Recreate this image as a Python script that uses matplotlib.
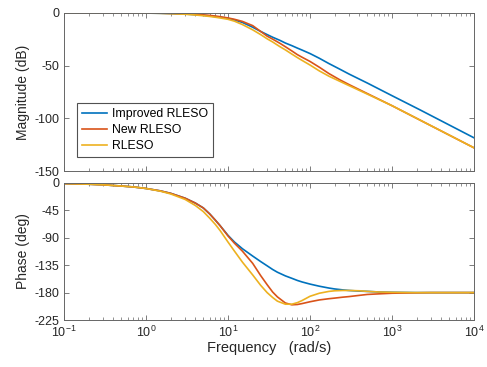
import numpy as np
import matplotlib
matplotlib.use("Agg")
import matplotlib.pyplot as plt
from matplotlib.ticker import LogLocator, NullFormatter

plt.rcParams['font.family'] = ['Liberation Sans', 'DejaVu Sans']
plt.rcParams['axes.unicode_minus'] = False
plt.rcParams['mathtext.default'] = 'regular'

# magnitude readings (dB)
freq_mag = [0.1, 0.5, 1, 1.5, 2, 3, 4, 5, 6, 7, 8, 10, 12, 15, 20, 25, 30, 35, 43, 50,
            60, 70, 80, 100, 130, 170, 233, 300, 500, 1000, 2200, 10000]
mag_improved = [0, 0, -0.1, -0.3, -0.5, -1, -1.6, -2.2, -2.8, -3.4, -4, -5.2, -6.6, -9, -13.5, -17.5,
                -20.5, -23, -26, -28.5, -31, -33.3, -35.2, -38.5, -43, -48, -53.5, -58, -66.5, -78.5, -92, -118.5]
mag_new = [0, 0, -0.1, -0.2, -0.4, -0.8, -1.3, -1.8, -2.3, -2.9, -3.5, -4.7, -6, -8, -12, -17.5,
           -22, -24.8, -28.8, -32, -36, -39.5, -42, -46, -51.5, -57.5, -63.6, -68, -76.5, -88, -101.7, -128]
mag_rleso = [0, 0, -0.1, -0.3, -0.6, -1.2, -1.9, -2.6, -3.3, -4, -4.7, -6, -7.8, -11, -16, -20.5,
             -24.5, -27.5, -32, -35, -39, -42.3, -45, -49.4, -55, -60, -65, -69, -77, -88, -101.7, -128]

# phase readings (deg)
freq_ph = [0.1, 0.2, 0.3, 0.5, 0.7, 1, 1.5, 2, 3, 4, 5, 6, 7, 8, 10, 12, 15, 20, 25, 30, 35, 40,
           50, 60, 70, 80, 100, 130, 170, 200, 250, 300, 400, 500, 700, 1000, 2000, 3000, 10000]
ph_improved = [-1, -2, -3, -5, -6.5, -9, -13, -17, -25, -33, -41, -51, -61, -70, -86, -97, -108, -120,
               -129, -136, -142, -146.5, -152.5, -156.5, -160, -162.5, -166, -169.5, -172.5, -174, -175.5,
               -176.5, -177.5, -178, -179, -179.5, -180, -180, -180]
ph_new = [-1, -2, -3, -5, -6.5, -9, -13, -17, -25, -33, -41, -51, -61, -70, -87, -99, -112, -132,
          -152, -167, -179, -187, -197, -200, -199.5, -198, -195, -192, -190, -189, -187.5,
          -186.5, -184.5, -183, -182, -181, -180.3, -180, -180]
ph_rleso = [-1, -2, -3, -5, -6.5, -9, -13.5, -18, -27, -37, -47, -58, -68, -78, -97, -112, -130, -151,
            -168, -180, -188, -194, -199, -199, -196.5, -193, -186, -181, -178, -177, -176.5,
            -176.5, -177, -178, -179, -179.5, -180, -180, -180]

labels = ['Improved RLESO', 'New RLESO', 'RLESO']
colors = ['#0072BD', '#D95319', '#EDB120']
txt = '#262626'

fig = plt.figure(figsize=(4.87, 3.67), dpi=100)
ax1 = fig.add_axes([0.1314, 0.534, 0.842, 0.4306])
ax2 = fig.add_axes([0.1314, 0.128, 0.842, 0.3734])

for m, c, lab in zip([mag_improved, mag_new, mag_rleso], colors, labels):
    ax1.plot(freq_mag, m, color=c, lw=1.2, label=lab)
for p, c in zip([ph_improved, ph_new, ph_rleso], colors):
    ax2.plot(freq_ph, p, color=c, lw=1.2)

for ax in (ax1, ax2):
    ax.set_xscale('log')
    ax.set_xlim(0.1, 1e4)
    ax.xaxis.set_major_locator(LogLocator(base=10, numticks=10))
    ax.xaxis.set_minor_locator(LogLocator(base=10, subs=np.arange(2, 10), numticks=10))
    ax.xaxis.set_minor_formatter(NullFormatter())
    ax.tick_params(which='both', direction='in', top=True, right=True,
                   colors='#666666', labelcolor=txt, labelsize=9)
    ax.tick_params(which='major', length=3.5, width=0.6)
    ax.tick_params(which='minor', length=2, width=0.5)
    for s in ax.spines.values():
        s.set_color('#666666')
        s.set_linewidth(0.7)

ax1.set_ylim(-150, 0)
ax1.set_yticks([0, -50, -100, -150])
ax1.set_xticklabels([])
ax1.set_ylabel('Magnitude (dB)', fontsize=10, color=txt, labelpad=3)

ax2.set_ylim(-225, 0)
ax2.set_yticks([0, -45, -90, -135, -180, -225])
ax2.set_ylabel('Phase (deg)', fontsize=10, color=txt, labelpad=3)
ax2.set_xlabel('Frequency   (rad/s)', fontsize=10.5, color=txt, labelpad=1)

leg = ax1.legend(loc='lower left', bbox_to_anchor=(0.016, 0.048), fontsize=8.8,
                 frameon=True, fancybox=False, edgecolor=txt,
                 handlelength=2.1, handletextpad=0.4, borderpad=0.4, labelspacing=0.35)
leg.get_frame().set_linewidth(0.8)

fig.savefig('out.png', dpi=100)
